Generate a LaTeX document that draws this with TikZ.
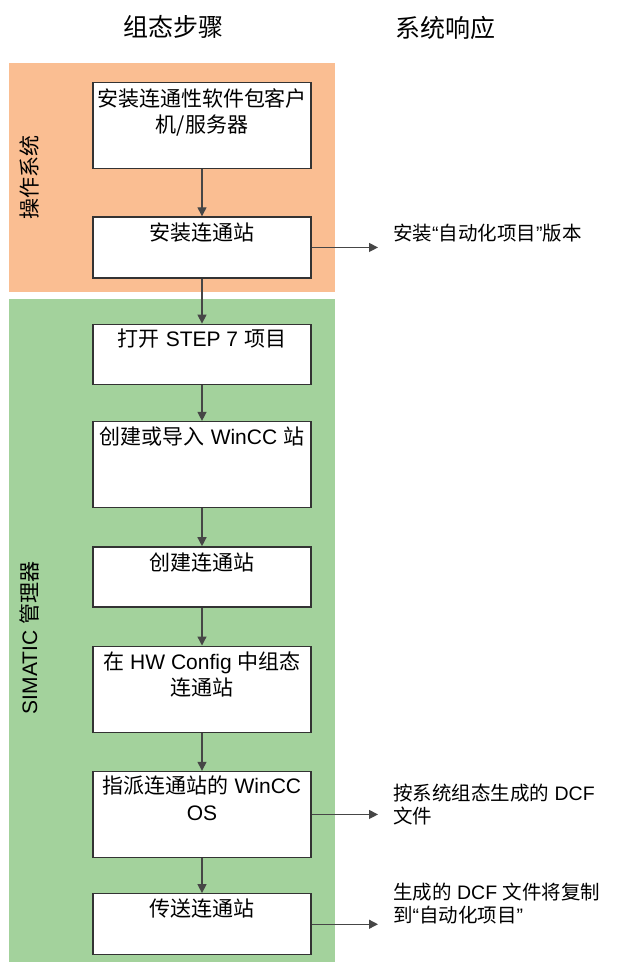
\documentclass[tikz,border=0pt]{standalone}
\usepackage{fontspec}
\setmainfont{Liberation Sans}
\newfontfamily\cjk{Noto Sans CJK SC}
\newcommand{\zh}[1]{{\cjk #1}}
\usetikzlibrary{arrows.meta,positioning}
\definecolor{osorange}{RGB}{250,190,146}
\definecolor{simgreen}{RGB}{163,210,156}
\definecolor{linegray}{RGB}{70,70,70}
\tikzset{
  stepbox/.style={
    draw=black!80,
    line width=1.3pt,
    fill=white,
    minimum width=218pt,
    inner sep=0pt,
    anchor=north
  },
  steptext/.style={
    font=\fontsize{21}{26.5}\selectfont,
    align=center,
    inner sep=0pt
  },
  resp/.style={
    font=\fontsize{19.5}{22.5}\selectfont,
    align=left,
    anchor=west,
    inner sep=0pt
  },
  flow/.style={
    -{Triangle[length=9pt,width=9pt]}, line width=1.3pt, draw=linegray, fill=linegray}
}

\begin{document}
\begin{tikzpicture}[x=1pt, y=1pt]
\useasboundingbox (0,0) rectangle (619,-962);

% regions
\fill[osorange] (9,-63) rectangle (335,-292);
\fill[simgreen] (9,-299) rectangle (335,-962);

\node[font=\fontsize{25}{30}\selectfont] (hconf) at (173,-27) {\zh{组态步骤}};
\node[font=\fontsize{25}{30}\selectfont] (hsys)  at (445,-28) {\zh{系统响应}};

\node[rotate=90, font=\fontsize{21}{25}\selectfont] (oslabel)  at (29,-177) {\zh{操作系统}};
\node[rotate=90, font=\fontsize{21}{25}\selectfont] (simlabel) at (29,-638) {SIMATIC \zh{管理器}};

% steps
\node[stepbox, minimum height=86pt] (b1) at (202,-82) {};
\node[stepbox, minimum height=61pt, below=47pt of b1] (b2) {};
\node[stepbox, minimum height=60pt, below=45pt of b2] (b3) {};
\node[stepbox, minimum height=86pt, below=36pt of b3] (b4) {};
\node[stepbox, minimum height=60pt, below=38pt of b4] (b5) {};
\node[stepbox, minimum height=86pt, below=38pt of b5] (b6) {};
\node[stepbox, minimum height=86pt, below=38pt of b6] (b7) {};
\node[stepbox, minimum height=61pt, below=35pt of b7] (b8) {};

\node[steptext, below=6pt of b1.north] (t1) {\zh{安装连通性软件包客户}\\\zh{机/服务器}};
\node[steptext, below=6pt of b2.north] (t2) {\zh{安装连通站}};
\node[steptext, below=5pt of b3.north] (t3) {\zh{打开} STEP 7 \zh{项目}};
\node[steptext, below=6pt of b4.north] (t4) {\zh{创建或导入} WinCC \zh{站}};
\node[steptext, below=6pt of b5.north] (t5) {\zh{创建连通站}};
\node[steptext, below=6pt of b6.north] (t6) {\zh{在} HW Config \zh{中组态}\\\zh{连通站}};
\node[steptext, below=5pt of b7.north] (t7) {\zh{指派连通站的} WinCC\\OS};
\node[steptext, below=6pt of b8.north] (t8) {\zh{传送连通站}};

\draw[flow] (b1) -- (b2);
\draw[flow] (b2) -- (b3);
\draw[flow] (b3) -- (b4);
\draw[flow] (b4) -- (b5);
\draw[flow] (b5) -- (b6);
\draw[flow] (b6) -- (b7);
\draw[flow] (b7) -- (b8);

% responses
\coordinate (tip) at (378,0);
\node[resp] (r2) at (393,-233) {\zh{安装}“\zh{自动化项目}”\zh{版本}};
\node[resp] (r7) at (393,-804.5) {\zh{按系统组态生成的} DCF\\\zh{文件}};
\node[resp] (r8) at (393,-903.5) {\zh{生成的} DCF \zh{文件将复制}\\\zh{到}“\zh{自动化项目}”};

\draw[flow] (b2.east) -- (b2.east -| tip);
\draw[flow] (b7.east) -- (b7.east -| tip);
\draw[flow] (b8.east) -- (b8.east -| tip);
\end{tikzpicture}
\end{document}
